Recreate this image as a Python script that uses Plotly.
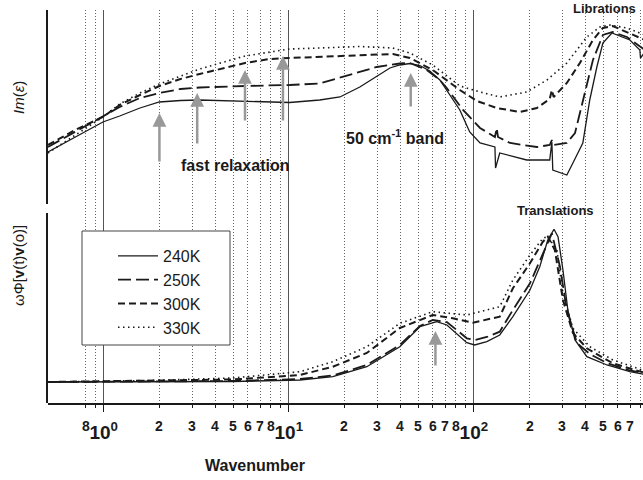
import plotly.graph_objects as go
import math

# ---------------- data (wavenumber in cm^-1, intensities in arbitrary units) ----------------
labels = ["240K", "250K", "300K", "330K"]

# Upper panel: Im(eps)
wn_im_240 = [0.5, 0.7, 0.99, 1.22, 1.57, 2.0, 2.6, 3.3, 5.8, 10.1, 14.7, 18.9, 24.2, 29.9, 35.2, 39.8, 45.1, 51.1,
             57.8, 65.5, 74.2, 84, 95, 108, 130, 131, 138, 193, 257, 264, 267, 318, 343, 388, 423, 462, 498, 557,
             697, 789, 795, 840]
im_240 = [52, 67, 82, 88, 96, 102, 103.5, 104, 103, 101.5, 104, 107, 117, 128, 136, 139, 140.5, 138.5,
          133, 124, 109, 94, 72, 61, 57, 36, 51, 44, 44, 62, 34, 29, 41, 61, 104, 137, 161, 171,
          164, 154, 146, 152]

wn_im_250 = [0.5, 0.7, 0.99, 1.22, 1.57, 2.0, 2.6, 3.3, 5.8, 10.1, 14.7, 19.6, 29.9, 39.8, 45.1, 55.7, 65.5, 71.4,
             87.4, 108, 130, 133, 135, 157, 219, 257, 264, 270, 318, 352, 388, 440, 498, 563, 671, 789, 840]
im_250 = [57, 72, 87, 97, 106, 111, 115, 116.5, 118, 119, 120.5, 127, 137, 140.5, 141, 134, 124, 116,
          94, 76, 67, 76, 67, 61, 57, 59, 64, 59, 61, 71, 104, 144, 169, 172, 167, 157, 154]

wn_im_300 = [0.5, 0.7, 0.99, 1.22, 1.57, 2.0, 2.6, 3.3, 5.8, 7.9, 10.1, 14.7, 24.2, 36.5, 45.1, 60, 84, 104, 133,
             177, 219, 257, 264, 270, 318, 374, 440, 498, 563, 671, 789, 840]
im_300 = [59, 74, 87, 99, 109, 118, 125, 130, 141, 145, 146, 147, 149, 150, 146, 134, 114, 103, 96,
          92, 96, 105, 114, 107, 121, 141, 164, 176, 178, 172, 166, 164]

wn_im_330 = [0.5, 0.7, 0.99, 1.22, 1.57, 2.0, 2.6, 3.3, 5.8, 7.9, 10.1, 14.7, 24.2, 36.5, 45.1, 60, 84, 108, 138,
             193, 248, 318, 408, 480, 544, 671, 789, 840]
im_330 = [51, 69, 87, 100, 111, 120, 128, 135, 148, 152, 155, 156, 157.5, 156, 151, 139, 118, 112, 107,
          112, 124, 141, 167, 177, 179, 176, 171, 169]

# Lower panel: omega * Phi[v(t)v(0)]
wn_vv_240 = [0.5, 1.77, 4.98, 11.5, 17.3, 26.4, 39.8, 51.1, 63.1, 71.5, 84, 91.6, 101, 117.5, 138, 162.5, 201,
             227, 251, 271, 285, 303, 322, 352, 408, 524, 697, 840]
vv_240 = [21, 21.2, 21.5, 23, 26.3, 36.3, 56.3, 76.3, 81.3, 78, 66.3, 60.3, 58, 61.3, 68, 86.3, 113,
          136.3, 163, 173.7, 166.3, 133, 93, 63, 46.3, 38, 31.3, 28.5]

wn_vv_250 = [0.5, 1.77, 4.98, 11.5, 17.3, 26.4, 39.8, 51.1, 60, 71.5, 84, 91.6, 101, 117.5, 138, 162.5, 201,
             248, 264, 292, 318, 361, 423, 524, 697, 840]
vv_250 = [21, 21.5, 22, 24, 27.5, 38, 58, 77, 83, 81, 71, 64.7, 63, 66, 71.3, 93, 119.7,
          159.7, 169.7, 136.3, 93, 60, 49, 40, 32.5, 29.5]

wn_vv_300 = [0.5, 1.77, 4.98, 11.5, 17.3, 26.4, 39.8, 60, 77, 98.8, 138, 162.5, 201, 236, 251, 274, 303, 343,
             408, 564, 840]
vv_300 = [21, 22, 23.5, 28, 36.3, 50, 75, 88, 84.7, 80.3, 86.3, 114.7, 139.7, 161.3, 166.3, 153, 103, 70,
          54.7, 39.7, 30]

wn_vv_330 = [0.5, 1.77, 4.98, 11.5, 17.3, 26.4, 39.8, 60, 91.6, 138, 162.5, 201, 236, 251, 281, 303, 343, 423,
             564, 840]
vv_330 = [21, 22.5, 25, 31.3, 41.3, 56.3, 79.7, 91.3, 88, 96.3, 123, 148, 164.7, 166.3, 153, 109.7, 74.7, 56.3,
          43, 32]

decade_ticks = [1, 10, 100]
decade_text = ["10<sup>0</sup>", "10<sup>1</sup>", "10<sup>2</sup>"]
grid_minor = [0.8, 0.9] + [m * d for d in (1, 10, 100) for m in range(2, 10)]
minor_label_vals = [0.8] + [m * d for d in (1, 10) for m in range(2, 9)] + [m * 100 for m in range(2, 8)]
minor_label_text = ["8"] + [str(m) for m in range(2, 9)] * 2 + [str(m) for m in range(2, 8)]

# arrows: (wavenumber, head value, tail pixel offset)
arrows_top = [(2.0, 91, 50), (3.2, 111, 52), (5.8, 134, 52), (9.3, 148, 66), (45.6, 131, 35)]
arrows_bottom = [(62, 72, 36)]

# ---------------- styling ----------------
FONT = "Liberation Sans, Arial, Helvetica, sans-serif"
INK = "#1a1a1a"
styles = [dict(dash="solid", width=1.3),
          dict(dash="13px,5px", width=1.8),
          dict(dash="7px,4px", width=2.0),
          dict(dash="1.5px,3.5px", width=1.6)]

fig = go.Figure()

# empty trace creating a full-height subplot that carries the x grid
fig.add_trace(go.Scatter(x=[None], y=[None], xaxis="x", yaxis="y", showlegend=False, hoverinfo="skip"))

tops = [(wn_im_240, im_240), (wn_im_250, im_250), (wn_im_300, im_300), (wn_im_330, im_330)]
bots = [(wn_vv_240, vv_240), (wn_vv_250, vv_250), (wn_vv_300, vv_300), (wn_vv_330, vv_330)]
for i, lab in enumerate(labels):
    fig.add_trace(go.Scatter(x=tops[i][0], y=tops[i][1], xaxis="x2", yaxis="y2", mode="lines",
                             line=dict(color=INK, **styles[i]), name=lab, showlegend=True))
for i, lab in enumerate(labels):
    fig.add_trace(go.Scatter(x=bots[i][0], y=bots[i][1], xaxis="x3", yaxis="y3", mode="lines",
                             line=dict(color=INK, **styles[i]), name=lab, showlegend=False))

xr = [math.log10(0.5), 2.914]
top_dom = [0.5064, 1.0]
bot_dom = [0.0, 0.4835]

fig.update_layout(
    width=643, height=480,
    margin=dict(l=48, r=0, t=10, b=77),
    paper_bgcolor="white", plot_bgcolor="rgba(0,0,0,0)",
    font=dict(family=FONT, color=INK),
    xaxis=dict(type="log", range=xr, anchor="y",
               tickmode="array", tickvals=decade_ticks, ticktext=decade_text,
               tickfont=dict(family=FONT, size=19, weight="bold", color=INK),
               ticks="outside", ticklen=7, tickcolor=INK, tickwidth=1, ticklabelstandoff=4,
               showline=True, linecolor=INK, linewidth=1.5,
               showgrid=True, gridcolor="#555", gridwidth=1.2,
               minor=dict(tickmode="array", tickvals=grid_minor, ticks="outside", ticklen=3,
                          tickcolor=INK, showgrid=True, gridcolor="#666", gridwidth=1,
                          griddash="1px,2px"),
               fixedrange=True),
    yaxis=dict(domain=[0, 1], range=[0, 1], visible=False, fixedrange=True),
    xaxis2=dict(type="log", range=xr, anchor="y2", visible=False, showgrid=False),
    yaxis2=dict(domain=top_dom, range=[0, 194], anchor="x2", showline=True, linecolor=INK, linewidth=1.5,
                showgrid=False, zeroline=False, showticklabels=False, ticks=""),
    xaxis3=dict(type="log", range=xr, anchor="y3", visible=False, showgrid=False),
    yaxis3=dict(domain=bot_dom, range=[0, 190], anchor="x3", showline=True, linecolor=INK, linewidth=1.5,
                showgrid=False, zeroline=False, showticklabels=False, ticks=""),
    legend=dict(x=(113 - 48) / 595, y=(403 - 239) / 393, xanchor="left", yanchor="top",
                bgcolor="rgba(0,0,0,0)", borderwidth=0,
                font=dict(family=FONT, size=16, color=INK), itemwidth=40),
    showlegend=True,
)

# legend frame (white box covering the grid)
fig.add_shape(type="rect", xref="paper", yref="paper",
              x0=(82 - 48) / 595, x1=(230 - 48) / 595, y0=(403 - 345) / 393, y1=(403 - 231) / 393,
              line=dict(color="#444", width=1), fillcolor="white", layer="above")

ann = []
# minor tick labels
for v, t in zip(minor_label_vals, minor_label_text):
    ann.append(dict(x=math.log10(v), y=(403 - 426) / 393, xref="x", yref="paper", text=t, showarrow=False,
                    xanchor="center", yanchor="middle",
                    font=dict(family=FONT, size=14, weight="bold", color=INK)))
# arrows
for (w, yv, off) in arrows_top:
    ann.append(dict(x=math.log10(w), y=yv, xref="x2", yref="y2", ax=0, ay=off, text="", showarrow=True,
                    arrowhead=2, arrowsize=1.1, arrowwidth=2.5, arrowcolor="#999"))
for (w, yv, off) in arrows_bottom:
    ann.append(dict(x=math.log10(w), y=yv, xref="x3", yref="y3", ax=0, ay=off, text="", showarrow=True,
                    arrowhead=2, arrowsize=1.1, arrowwidth=2.5, arrowcolor="#999"))

def label(text, px, py, size, weight="bold", angle=0):
    ann.append(dict(x=(px - 48) / 595, y=(403 - py) / 393, xref="paper", yref="paper", text=text,
                    showarrow=False, xanchor="center", yanchor="middle", textangle=angle,
                    font=dict(family=FONT, size=size, weight=weight, color=INK)))

label("fast relaxation", 235, 165, 16)
label("50 cm<sup>-1</sup> band", 395, 137, 16)
label("Librations", 604, 8, 13)
label("Translations", 555, 210, 13)
label("Wavenumber", 255, 465, 16)
label("<i>Im</i>(<i>ε</i>)", 18, 98, 15, weight="normal", angle=-90)
label("ωΦ[<b>v</b>(t)<b>v</b>(o)]", 18, 266, 15, weight="normal", angle=-90)

fig.update_layout(annotations=ann)
fig.write_html("out.html")
